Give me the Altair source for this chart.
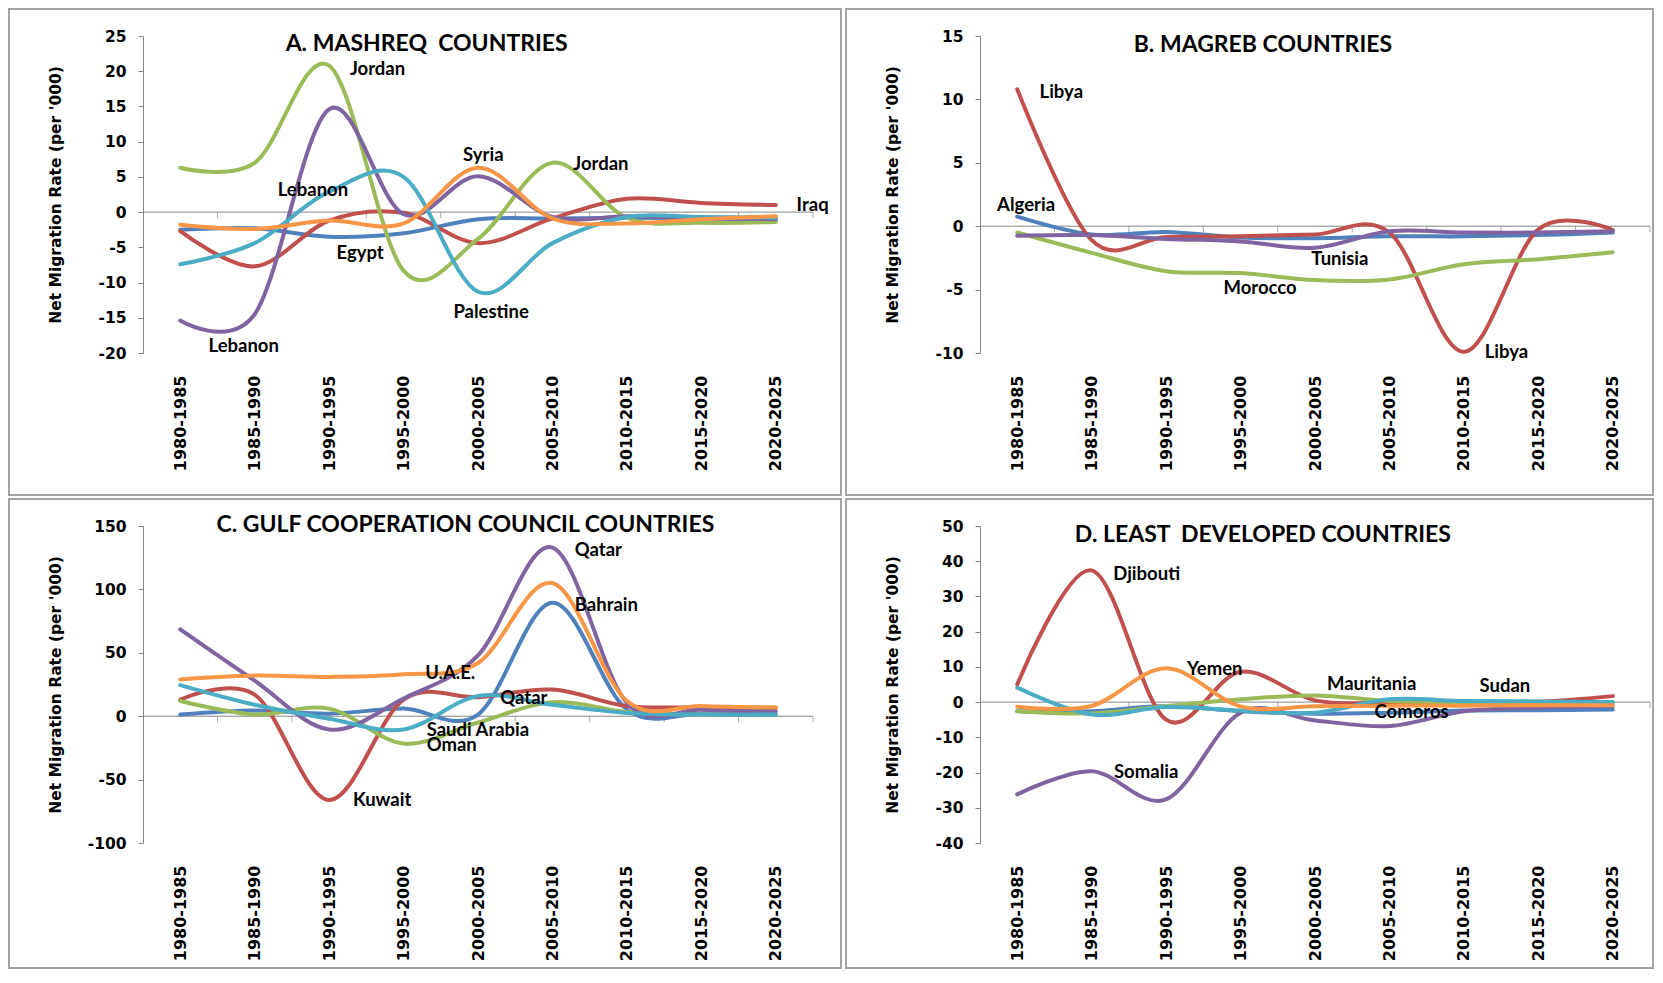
import altair as alt
import pandas as pd

PERIODS = ["1980-1985", "1985-1990", "1990-1995", "1995-2000", "2000-2005",
           "2005-2010", "2010-2015", "2015-2020", "2020-2025"]
IDX = list(range(len(PERIODS)))
COLORS = ["#4F81BD", "#C0504D", "#9BBB59", "#8064A2", "#4BACC6", "#F79646"]

# ---- Panel A: Mashreq ----
A_NAMES = ["Egypt", "Iraq", "Jordan", "Lebanon", "Palestine", "Syria"]
A_EGYPT = [-2.5, -2.3, -3.5, -3.0, -1.0, -0.9, -0.8, -0.9, -1.0]
A_IRAQ = [-2.7, -7.7, -1.2, -0.1, -4.4, -0.9, 1.9, 1.3, 1.0]
A_JORDAN = [6.3, 7.0, 20.8, -8.3, -3.8, 7.0, -0.8, -1.5, -1.4]
A_LEBANON = [-15.4, -14.5, 14.6, -0.3, 5.1, -0.7, -0.6, -0.9, -1.0]
A_PALESTINE = [-7.4, -4.4, 2.9, 5.0, -11.3, -4.4, -0.7, -0.7, -0.8]
A_SYRIA = [-1.8, -2.4, -1.2, -1.6, 6.3, -0.9, -1.6, -1.0, -0.6]
A_LABELS = ["Jordan", "Syria", "Jordan", "Iraq", "Lebanon", "Egypt", "Palestine", "Lebanon"]
A_LAB_X = [2.28, 3.8, 5.28, 8.28, 1.31, 2.1, 3.67, 0.38]
A_LAB_Y = [20.3, 8.1, 6.9, 1.0, 3.2, -5.8, -14.2, -19.0]

# ---- Panel B: Magreb ----
B_NAMES = ["Algeria", "Libya", "Morocco", "Tunisia"]
B_ALGERIA = [0.75, -0.65, -0.45, -0.9, -0.95, -0.8, -0.8, -0.7, -0.5]
B_LIBYA = [10.8, -1.1, -0.85, -0.8, -0.65, -0.5, -9.9, -0.25, -0.3]
B_MOROCCO = [-0.5, -2.1, -3.55, -3.7, -4.25, -4.2, -3.0, -2.6, -2.05]
B_TUNISIA = [-0.75, -0.7, -1.0, -1.2, -1.7, -0.4, -0.5, -0.5, -0.4]
B_LABELS = ["Libya", "Algeria", "Tunisia", "Morocco", "Libya"]
B_LAB_X = [0.3, -0.27, 3.95, 2.77, 6.28]
B_LAB_Y = [10.6, 1.66, -2.6, -4.9, -9.95]

# ---- Panel C: GCC ----
C_NAMES = ["Bahrain", "Kuwait", "Oman", "Qatar", "Saudi Arabia", "U.A.E."]
C_BAHRAIN = [1.3, 4.5, 2.0, 6.0, 1.3, 89.5, 5.3, 2.0, 1.3]
C_KUWAIT = [13, 17, -66, 13, 15, 21, 8, 7, 6.5]
C_OMAN = [12, 1.3, 6, -21.5, -5, 11, 3.4, 1.3, 2]
C_QATAR = [68.4, 28, -10.5, 14, 48, 133, 10.5, 5, 4]
C_SAUDI = [24.5, 9, -2, -10.5, 16, 9, 2.6, 1.3, 1.3]
C_UAE = [29, 32, 31, 33, 42, 105, 12, 8, 7]
C_LABELS = ["Qatar", "Bahrain", "U.A.E.", "Qatar", "Saudi Arabia", "Oman", "Kuwait"]
C_LAB_X = [5.3, 5.3, 3.29, 4.3, 3.31, 3.31, 2.32]
C_LAB_Y = [131, 88, 33.7, 14, -11, -22.4, -66]

# ---- Panel D: Least developed ----
D_NAMES = ["Comoros", "Djibouti", "Mauritania", "Somalia", "Sudan", "Yemen"]
D_COMOROS = [-2.6, -2.6, -1.1, -2.6, -3.3, -3.0, -2.4, -2.3, -2.1]
D_DJIBOUTI = [5.0, 37.4, -5.0, 8.6, 0.5, -0.2, -0.3, 0.1, 1.7]
D_MAURITANIA = [-2.6, -3.2, -1.1, 0.8, 1.9, 0.3, 0.0, -0.3, -0.3]
D_SOMALIA = [-26.2, -19.6, -27.6, -3.0, -5.2, -6.8, -2.6, -1.6, -1.1]
D_SUDAN = [4.1, -3.5, -1.4, -2.4, -3.0, 0.8, 0.3, 0.2, 0.0]
D_YEMEN = [-1.3, -1.1, 9.6, -1.2, -1.2, -1.0, -1.0, -0.9, -0.9]
D_LABELS = ["Djibouti", "Yemen", "Mauritania", "Sudan", "Comoros", "Somalia"]
D_LAB_X = [1.29, 2.28, 4.16, 6.21, 4.8, 1.3]
D_LAB_Y = [36.5, 9.3, 5.2, 4.5, -2.8, -19.9]

TITLES = ["A. MASHREQ\u00a0 COUNTRIES", "B. MAGREB COUNTRIES",
          "C. GULF COOPERATION COUNCIL COUNTRIES", "D. LEAST\u00a0 DEVELOPED COUNTRIES"]
TITLE_X = [3.31, 3.3, 3.83, 3.3]
TITLE_Y = [23.8, 14.3, 150.5, 47.5]

BOUNDARIES = [i + 0.5 for i in IDX]
LABEL_EXPR = "[" + ",".join("'%s'" % p for p in PERIODS) + "][datum.value]"
AXIS_GRAY = "#868686"
PLOT_W = 670
PLOT_H = 317


def panel(names, series, ymin, ymax, ystep, labels, lab_x, lab_y, title, tx, ty,
          title_pad, right, bottom):
    x_enc = alt.X("idx:Q",
                  scale=alt.Scale(domain=[-0.5, 8.5], nice=False, zero=False),
                  axis=alt.Axis(values=IDX, labelExpr=LABEL_EXPR, labelAngle=270,
                                domain=False, ticks=False, grid=False,
                                labelFont="DejaVu Sans", labelFontWeight="bold",
                                labelFontSize=16, labelPadding=22, labelColor="black",
                                labelFlush=False, labelOverlap=False, title=None))
    yvals = list(range(ymin, ymax + 1, ystep))
    y_enc = alt.Y("val:Q",
                  scale=alt.Scale(domain=[ymin, ymax], nice=False, zero=False),
                  axis=alt.Axis(values=yvals, tickCount=len(yvals), grid=False,
                                domainColor=AXIS_GRAY, tickColor=AXIS_GRAY, tickSize=5,
                                labelExpr="replace(datum.label, '\u2212', '-')",
                                labelFont="DejaVu Sans", labelFontWeight="bold",
                                labelFontSize=15.5, labelPadding=12, labelColor="black",
                                labelOverlap=False, labelFlush=False,
                                title="Net Migration Rate (per '000)",
                                titleFont="DejaVu Sans", titleFontWeight="bold",
                                titleFontSize=15.5, titleColor="black",
                                titlePadding=title_pad))
    border = alt.Chart(pd.DataFrame({"a": [0]})).mark_rect(
        fill="transparent", stroke="#a3a3a3", strokeWidth=2).encode(
        x=alt.value(-134), x2=alt.value(right), y=alt.value(-27), y2=alt.value(bottom))
    zero = alt.Chart(pd.DataFrame({"val": [0]})).mark_rule(
        color=AXIS_GRAY, strokeWidth=1).encode(y=y_enc)
    ticks = alt.Chart(pd.DataFrame({"idx": BOUNDARIES, "val": [0] * len(BOUNDARIES)})) \
        .mark_tick(orient="vertical", size=6, thickness=1, color=AXIS_GRAY, yOffset=3) \
        .encode(x=x_enc, y=y_enc)
    layers = [border, zero, ticks]
    for name, vals, col in zip(names, series, COLORS):
        df = pd.DataFrame({"idx": IDX, "val": vals, "country": name})
        layers.append(alt.Chart(df).mark_line(interpolate="cardinal", strokeWidth=4,
                                              color=col, strokeCap="round")
                      .encode(x=x_enc, y=y_enc))
    lab_df = pd.DataFrame({"idx": lab_x, "val": lab_y, "txt": labels})
    layers.append(alt.Chart(lab_df).mark_text(align="left", baseline="middle",
                                              font="Lato", fontWeight="bold",
                                              fontSize=18.5, color="black")
                  .encode(x=x_enc, y=y_enc, text="txt:N"))
    t_df = pd.DataFrame({"idx": [tx], "val": [ty], "txt": [title]})
    layers.append(alt.Chart(t_df).mark_text(align="center", baseline="middle",
                                            font="Lato", fontWeight="bold",
                                            fontSize=23, color="black")
                  .encode(x=x_enc, y=y_enc, text="txt:N"))
    return alt.layer(*layers).properties(width=PLOT_W, height=PLOT_H)


pA = panel(A_NAMES, [A_EGYPT, A_IRAQ, A_JORDAN, A_LEBANON, A_PALESTINE, A_SYRIA],
           -20, 25, 5, A_LABELS, A_LAB_X, A_LAB_Y, TITLES[0], TITLE_X[0], TITLE_Y[0],
           34, 698, 459)
pB = panel(B_NAMES, [B_ALGERIA, B_LIBYA, B_MOROCCO, B_TUNISIA],
           -10, 15, 5, B_LABELS, B_LAB_X, B_LAB_Y, TITLES[1], TITLE_X[1], TITLE_Y[1],
           34, 673, 459)
pC = panel(C_NAMES, [C_BAHRAIN, C_KUWAIT, C_OMAN, C_QATAR, C_SAUDI, C_UAE],
           -100, 150, 50, C_LABELS, C_LAB_X, C_LAB_Y, TITLES[2], TITLE_X[2], TITLE_Y[2],
           23.5, 698, 442)
pD = panel(D_NAMES, [D_COMOROS, D_DJIBOUTI, D_MAURITANIA, D_SOMALIA, D_SUDAN, D_YEMEN],
           -40, 50, 10, D_LABELS, D_LAB_X, D_LAB_Y, TITLES[3], TITLE_X[3], TITLE_Y[3],
           34, 673, 442)

chart = alt.concat(pA, pB, pC, pD, columns=2, spacing={"row": 2, "column": 3}) \
    .properties(padding=0, background="white") \
    .configure_view(stroke=None)

chart.save("out.html", embed_options={"renderer": "svg", "actions": False})
